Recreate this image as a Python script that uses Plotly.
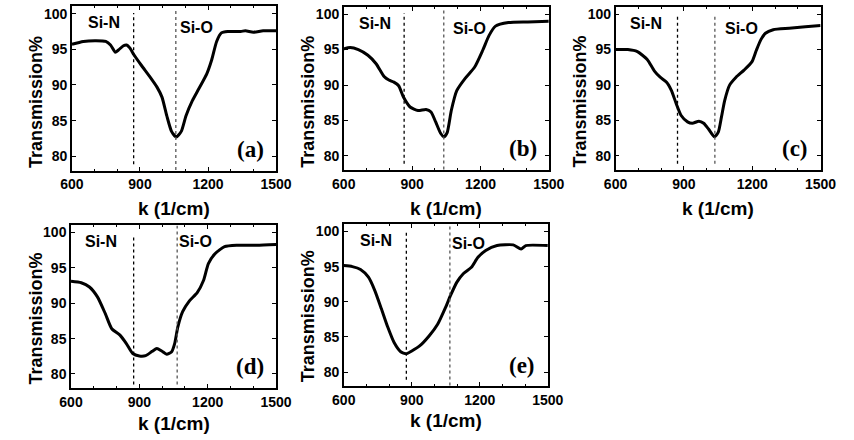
import plotly.graph_objects as go

# ---------------- data ----------------
panels = ["(a)", "(b)", "(c)", "(d)", "(e)"]

k_a = [600, 650, 706, 749, 770, 791, 805, 827, 841, 855, 874, 905, 947, 975, 997, 1018, 1039, 1060, 1082, 1103, 1131, 1160, 1195, 1216, 1238, 1259, 1287, 1344, 1365, 1400, 1443, 1500]
t_a = [95.7, 96.1, 96.2, 96.1, 95.6, 94.6, 94.9, 95.5, 95.6, 95.2, 94.2, 92.8, 91.0, 89.7, 88.3, 85.7, 83.5, 82.7, 83.5, 85.7, 87.8, 89.5, 91.6, 93.5, 96.1, 97.3, 97.5, 97.5, 97.6, 97.4, 97.6, 97.6]

k_b = [600, 628, 664, 706, 742, 777, 798, 820, 841, 862, 891, 926, 961, 983, 1004, 1025, 1040, 1054, 1072, 1096, 1132, 1174, 1210, 1238, 1266, 1323, 1408, 1500]
t_b = [95.1, 95.3, 95.0, 94.2, 93.0, 91.2, 90.7, 90.4, 89.9, 88.3, 86.9, 86.4, 86.55, 86.2, 84.75, 83.2, 82.7, 83.3, 86.4, 89.2, 90.9, 92.5, 94.9, 97.0, 98.3, 98.8, 98.9, 99.0]

k_c = [600, 654, 696, 739, 770, 796, 824, 845, 866, 888, 916, 937, 966, 987, 1008, 1034, 1051, 1065, 1079, 1100, 1129, 1164, 1199, 1218, 1238, 1258, 1292, 1362, 1433, 1500]
t_c = [95.0, 95.0, 94.7, 93.6, 92.0, 91.1, 90.4, 89.25, 87.4, 85.7, 84.8, 84.6, 84.9, 84.6, 83.8, 82.7, 83.35, 85.5, 87.8, 89.95, 91.1, 92.1, 93.3, 94.9, 96.4, 97.3, 97.8, 98.0, 98.2, 98.4]

k_d = [600, 645, 681, 716, 751, 779, 815, 843, 871, 900, 928, 956, 977, 998, 1020, 1041, 1055, 1069, 1090, 1119, 1154, 1182, 1203, 1232, 1274, 1330, 1415, 1500]
t_d = [93.1, 92.9, 92.3, 90.9, 88.5, 86.4, 85.5, 84.3, 82.9, 82.55, 82.6, 83.2, 83.6, 83.25, 82.8, 83.1, 84.3, 86.65, 88.8, 90.3, 91.5, 93.25, 95.6, 97.0, 98.0, 98.2, 98.2, 98.3]

k_e = [600, 638, 674, 709, 737, 766, 794, 822, 851, 876, 900, 936, 978, 1014, 1049, 1071, 1099, 1127, 1163, 1191, 1226, 1276, 1347, 1382, 1403, 1500]
t_e = [95.15, 95.0, 94.6, 93.5, 91.6, 89.0, 86.4, 84.2, 82.9, 82.6, 83.0, 83.75, 85.2, 86.8, 89.2, 90.9, 92.8, 94.0, 94.9, 96.3, 97.3, 98.0, 98.1, 97.5, 98.0, 98.0]

ks = [k_a, k_b, k_c, k_d, k_e]
ts = [t_a, t_b, t_c, t_d, t_e]

# dotted marker lines (Si-N, Si-O) per panel
sin_line_x = [872, 865, 872, 875, 876]
sio_line_x = [1058, 1039, 1036, 1066, 1068]
sin_line_y = [(78.9, 100.1), (78.9, 100.1), (78.9, 99.8), (78.5, 99.6), (78.9, 100.0)]
sio_line_y = [(78.1, 100.7), (78.1, 100.6), (78.9, 99.8), (78.5, 101.0), (78.1, 101.0)]

# label positions
sin_label = [(741, 98.7), (735, 98.7), (735, 98.7), (733, 98.7), (743, 98.7)]
sio_label = [(1148, 98.1), (1151, 98.0), (1151, 98.0), (1148, 98.7), (1148, 98.3)]
panel_label = [(1387, 81.0)] * 5

x_ticks = [600, 900, 1200, 1500]
y_ticks = [80, 85, 90, 95, 100]

# ---------------- layout ----------------
W, H = 854, 440
# pixel boxes (left, right, top, bottom)
boxes = [
    (62, 273, 5.5, 170),
    (343, 555, 6, 169.5),
    (624, 836, 6, 169.5),
    (61, 273, 225, 388),
    (343, 554, 224, 386),
]
ytitle_px = [(25, 101), (306, 101), (587, 101), (25, 318), (306, 316)]
xtitle_px = [(167, 208), (449, 208), (730, 208), (167, 423), (449, 420)]

SANS = "Liberation Sans, Arial, sans-serif"
fig = go.Figure()
shapes = []
annotations = []
tickfont = dict(family=SANS, size=14, color="black", weight="bold")

for i in range(5):
    n = "" if i == 0 else str(i + 1)
    xa, ya = "x" + n, "y" + n
    l, r, t, b = boxes[i]
    fig.add_trace(go.Scatter(x=ks[i], y=ts[i], mode="lines", xaxis=xa, yaxis=ya,
                             line=dict(color="black", width=3, shape="spline", smoothing=0.6),
                             showlegend=False, hoverinfo="skip"))
    axcommon = dict(showgrid=False, zeroline=False, showline=True, linecolor="black", linewidth=1.5,
                    mirror="ticks", ticks="inside", ticklen=4, tickwidth=1, tickcolor="black",
                    tickfont=tickfont,
                    minor=dict(ticks="inside", ticklen=2, tickcolor="black", nticks=2))
    fig.update_layout(**{
        "xaxis" + n: dict(domain=[l / W, r / W], range=[600, 1500], tickvals=x_ticks,
                          anchor=ya, **axcommon),
        "yaxis" + n: dict(domain=[1 - b / H, 1 - t / H], range=[78, 101], tickvals=y_ticks,
                          anchor=xa, **axcommon),
    })
    for lx, (y0, y1), col in [(sin_line_x[i], sin_line_y[i], "black"), (sio_line_x[i], sio_line_y[i], "#555555")]:
        shapes.append(dict(type="line", xref=xa, yref=ya, x0=lx, x1=lx, y0=y0, y1=y1,
                           line=dict(color=col, width=1.3, dash="dot")))
    labfont = dict(family=SANS, size=16, color="black", weight="bold")
    annotations.append(dict(x=sin_label[i][0], y=sin_label[i][1], xref=xa, yref=ya, text="Si-N",
                            showarrow=False, font=labfont))
    annotations.append(dict(x=sio_label[i][0], y=sio_label[i][1], xref=xa, yref=ya, text="Si-O",
                            showarrow=False, font=labfont))
    annotations.append(dict(x=panel_label[i][0], y=panel_label[i][1], xref=xa, yref=ya, text=panels[i],
                            showarrow=False,
                            font=dict(family="Liberation Serif, Times New Roman, serif", size=23,
                                      color="black", weight="bold")))
    annotations.append(dict(x=ytitle_px[i][0] / W, y=1 - ytitle_px[i][1] / H, xref="paper", yref="paper",
                            text="Transmission%", textangle=-90, showarrow=False,
                            font=dict(family=SANS, size=18, color="black", weight="bold"),
                            xanchor="center", yanchor="middle"))
    annotations.append(dict(x=xtitle_px[i][0] / W, y=1 - xtitle_px[i][1] / H, xref="paper", yref="paper",
                            text="k (1/cm)", showarrow=False,
                            font=dict(family=SANS, size=19, color="black", weight="bold"),
                            xanchor="center", yanchor="middle"))

fig.update_layout(width=W, height=H, margin=dict(l=0, r=0, t=0, b=0),
                  paper_bgcolor="white", plot_bgcolor="white",
                  shapes=shapes, annotations=annotations)

fig.write_html("out.html")
